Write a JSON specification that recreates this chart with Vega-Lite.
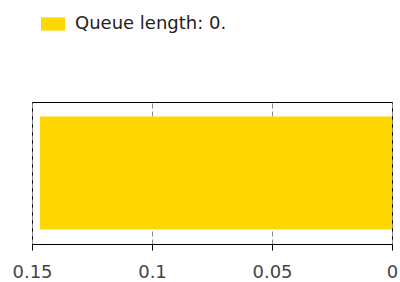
{
  "$schema": "https://vega.github.io/schema/vega-lite/v6.json",
  "width": 360,
  "height": 142,
  "autosize": "none",
  "padding": {"left": 32, "top": 102, "right": 8, "bottom": 38},
  "config": {"view": {"stroke": "#000000", "strokeWidth": 1}, "font": "DejaVu Sans"},
  "data": {"values": [{"label": "Queue length: 0.", "cat": "q", "value": 0.1467}]},
  "mark": {"type": "bar"},
  "encoding": {
    "x": {
      "field": "value",
      "type": "quantitative",
      "scale": {"domain": [0, 0.15], "reverse": true, "nice": false, "zero": true},
      "axis": {
        "title": null,
        "values": [0, 0.05, 0.1, 0.15],
        "format": ".2~f",
        "grid": true,
        "gridDash": [5, 3],
        "gridColor": "#888888",
        "gridOpacity": 1,
        "domainColor": "#000000",
        "tickColor": "#000000",
        "tickSize": 6,
        "labelFontSize": 18,
        "labelColor": "#444444",
        "labelPadding": 13,
        "labelFlush": false
      }
    },
    "y": {
      "field": "cat",
      "type": "nominal",
      "scale": {"paddingInner": 0, "paddingOuter": 0.128},
      "axis": null
    },
    "color": {
      "field": "label",
      "type": "nominal",
      "scale": {"range": ["#FFD700"]},
      "legend": {
        "orient": "none",
        "legendX": 9,
        "legendY": -90,
        "title": null,
        "symbolType": "M-1,-0.55H1V0.55H-1Z",
        "symbolSize": 576,
        "symbolStrokeWidth": 0,
        "symbolOpacity": 1,
        "labelFontSize": 18,
        "labelColor": "#222222",
        "labelOffset": 10
      }
    }
  }
}
